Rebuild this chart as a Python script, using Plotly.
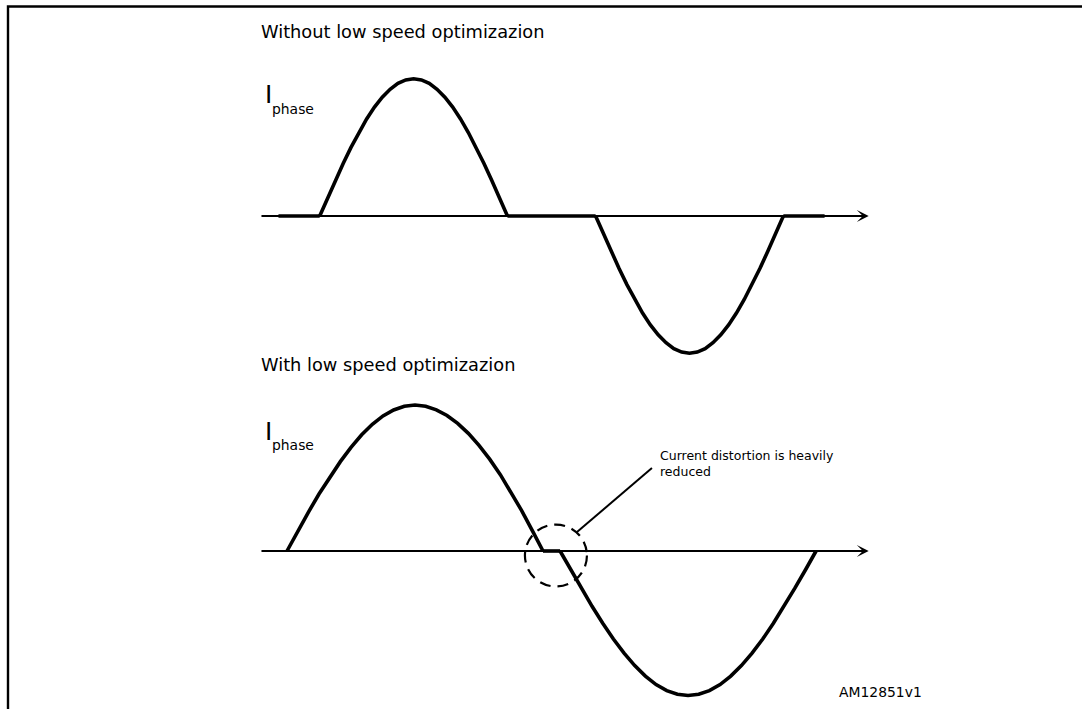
import plotly.graph_objects as go

# ---------------- data (x: electrical angle in degrees, y: normalised phase current) -------------
# Without low speed optimization (top)
top_pos_x = [23, 28.5, 34, 39.5, 45, 50.5, 56, 61.5, 67, 72.5, 78, 83.5, 89,
             94.5, 100, 105.5, 111, 116.5, 122, 127.5, 133, 138.5, 144, 149.5, 155]
top_pos_y = [0, 0.123, 0.243, 0.36, 0.47, 0.572, 0.665, 0.746, 0.814, 0.868, 0.908, 0.932, 0.94,
             0.932, 0.908, 0.868, 0.814, 0.746, 0.665, 0.572, 0.47, 0.36, 0.243, 0.123, 0]
top_neg_x = [217, 222.5, 228, 233.5, 239, 244.5, 250, 255.5, 261, 266.5, 272, 277.5, 283,
             288.5, 294, 299.5, 305, 310.5, 316, 321.5, 327, 332.5, 338, 343.5, 349]
top_neg_y = [0, -0.123, -0.243, -0.36, -0.47, -0.572, -0.665, -0.746, -0.814, -0.868, -0.908, -0.932, -0.94,
             -0.932, -0.908, -0.868, -0.814, -0.746, -0.665, -0.572, -0.47, -0.36, -0.243, -0.123, 0]
top_flat_x = [-6, 23, None, 155, 217, None, 349, 378]
top_flat_y = [0, 0, None, 0, 0, None, 0, 0]

# With low speed optimization (bottom)
bot_pos_x = [0, 7.5, 15, 22.5, 30, 37.5, 45, 52.5, 60, 67.5, 75, 82.5, 90,
             97.5, 105, 112.5, 120, 127.5, 135, 142.5, 150, 157.5, 165, 172.5, 180]
bot_pos_y = [0, 0.135, 0.265, 0.39, 0.505, 0.612, 0.71, 0.796, 0.868, 0.925, 0.966, 0.991, 1.0,
             0.991, 0.967, 0.928, 0.874, 0.806, 0.724, 0.629, 0.523, 0.405, 0.277, 0.14, 0]
bot_neg_x = [192, 199.5, 207, 214.5, 222, 229.5, 237, 244.5, 252, 259.5, 267, 274.5, 282,
             289.5, 297, 304.5, 312, 319.5, 327, 334.5, 342, 349.5, 357, 364.5, 372]
bot_neg_y = [0, -0.13, -0.256, -0.379, -0.495, -0.603, -0.7, -0.785, -0.857, -0.915, -0.956, -0.981, -0.99,
             -0.981, -0.956, -0.915, -0.857, -0.785, -0.7, -0.603, -0.495, -0.379, -0.256, -0.13, 0]
bot_flat_x = [180, 192]
bot_flat_y = [0, 0]

axis_start = -19
axis_end = 409

titles = ["Without low speed optimizazion", "With low speed optimizazion"]
note_text = "Current distortion is heavily<br>reduced"
code_text = "AM12851v1"

# ---------------- layout geometry (pixels) ----------------
W, H = 1082, 709
X0_PX = 287.0        # pixel of 0 deg
PX_PER_DEG = 1.4222
PX_PER_AMP = 146.0
SPLIT_PX = 370.0
TOP_ZERO_PX = 216.0
BOT_ZERO_PX = 551.0

FONT = "DejaVu Sans"


def P(xpx, ypx):
    return xpx / W, 1 - ypx / H


xr = [(0 - X0_PX) / PX_PER_DEG, (W - X0_PX) / PX_PER_DEG]

fig = go.Figure()
line = dict(color="black", width=3.6)


def add(x, y, ax):
    fig.add_trace(go.Scatter(x=x, y=y, mode="lines", line=line,
                             xaxis="x" if ax == 1 else "x2", yaxis="y" if ax == 1 else "y2",
                             showlegend=False, hoverinfo="skip"))


add(top_flat_x, top_flat_y, 1)
add(top_pos_x, top_pos_y, 1)
add(top_neg_x, top_neg_y, 1)
add(bot_flat_x, bot_flat_y, 2)
add(bot_pos_x, bot_pos_y, 2)
add(bot_neg_x, bot_neg_y, 2)

ann = []
# axes arrows
for xa, ya in (("x", "y"), ("x2", "y2")):
    ann.append(dict(x=axis_end, y=0, ax=axis_start, ay=0, xref=xa, yref=ya, axref=xa, ayref=ya,
                    showarrow=True, arrowhead=3, arrowsize=1.1, arrowwidth=1.8,
                    arrowcolor="black", text="", standoff=0))


def text(t, xpx, ypx, size, xanchor="left"):
    x, y = P(xpx, ypx)
    ann.append(dict(x=x, y=y, xref="paper", yref="paper", text=t, showarrow=False,
                    xanchor=xanchor, yanchor="middle", align="left",
                    font=dict(family=FONT, size=size, color="black")))


text(titles[0], 259, 31, 17.8)
text(titles[1], 259, 364, 17.8)
for yI, yp in ((94, 109), (431, 445)):
    text("I", 263, yI, 24.7)
    text("phase", 270, yp, 13.9)
text(note_text, 658, 463, 12.5)
text(code_text, 837, 692, 13.9)

shapes = [
    # outer frame
    dict(type="rect", xref="paper", yref="paper", x0=8 / W, x1=1.05, y0=-0.05, y1=1 - 6.5 / H,
         line=dict(color="black", width=2.4)),
    # dashed circle
    dict(type="circle", xref="x2", yref="y2", x0=189.1 - 21.8, x1=189.1 + 21.8,
         y0=-0.031 - 0.212, y1=-0.031 + 0.212, line=dict(color="black", width=2.2, dash="11px,7px")),
    # leader line
    dict(type="line", xref="x2", yref="y2", x0=203.9, y0=0.130, x1=256.6, y1=0.568,
         line=dict(color="black", width=2)),
]

split = 1 - SPLIT_PX / H
noax = dict(visible=False, fixedrange=True)
fig.update_layout(
    width=W, height=H, margin=dict(l=0, r=0, t=0, b=0),
    paper_bgcolor="white", plot_bgcolor="white",
    xaxis=dict(noax, domain=[0, 1], range=xr, anchor="y"),
    xaxis2=dict(noax, domain=[0, 1], range=xr, anchor="y2"),
    yaxis=dict(noax, domain=[split, 1],
               range=[-(SPLIT_PX - TOP_ZERO_PX) / PX_PER_AMP, TOP_ZERO_PX / PX_PER_AMP]),
    yaxis2=dict(noax, domain=[0, split],
                range=[-(H - BOT_ZERO_PX) / PX_PER_AMP, (BOT_ZERO_PX - SPLIT_PX) / PX_PER_AMP]),
    annotations=ann, shapes=shapes,
)

fig.write_html(
    "out.html",
    config={"displayModeBar": False},
    post_script="document.body.style.margin='0';document.body.style.overflow='hidden';",
)
